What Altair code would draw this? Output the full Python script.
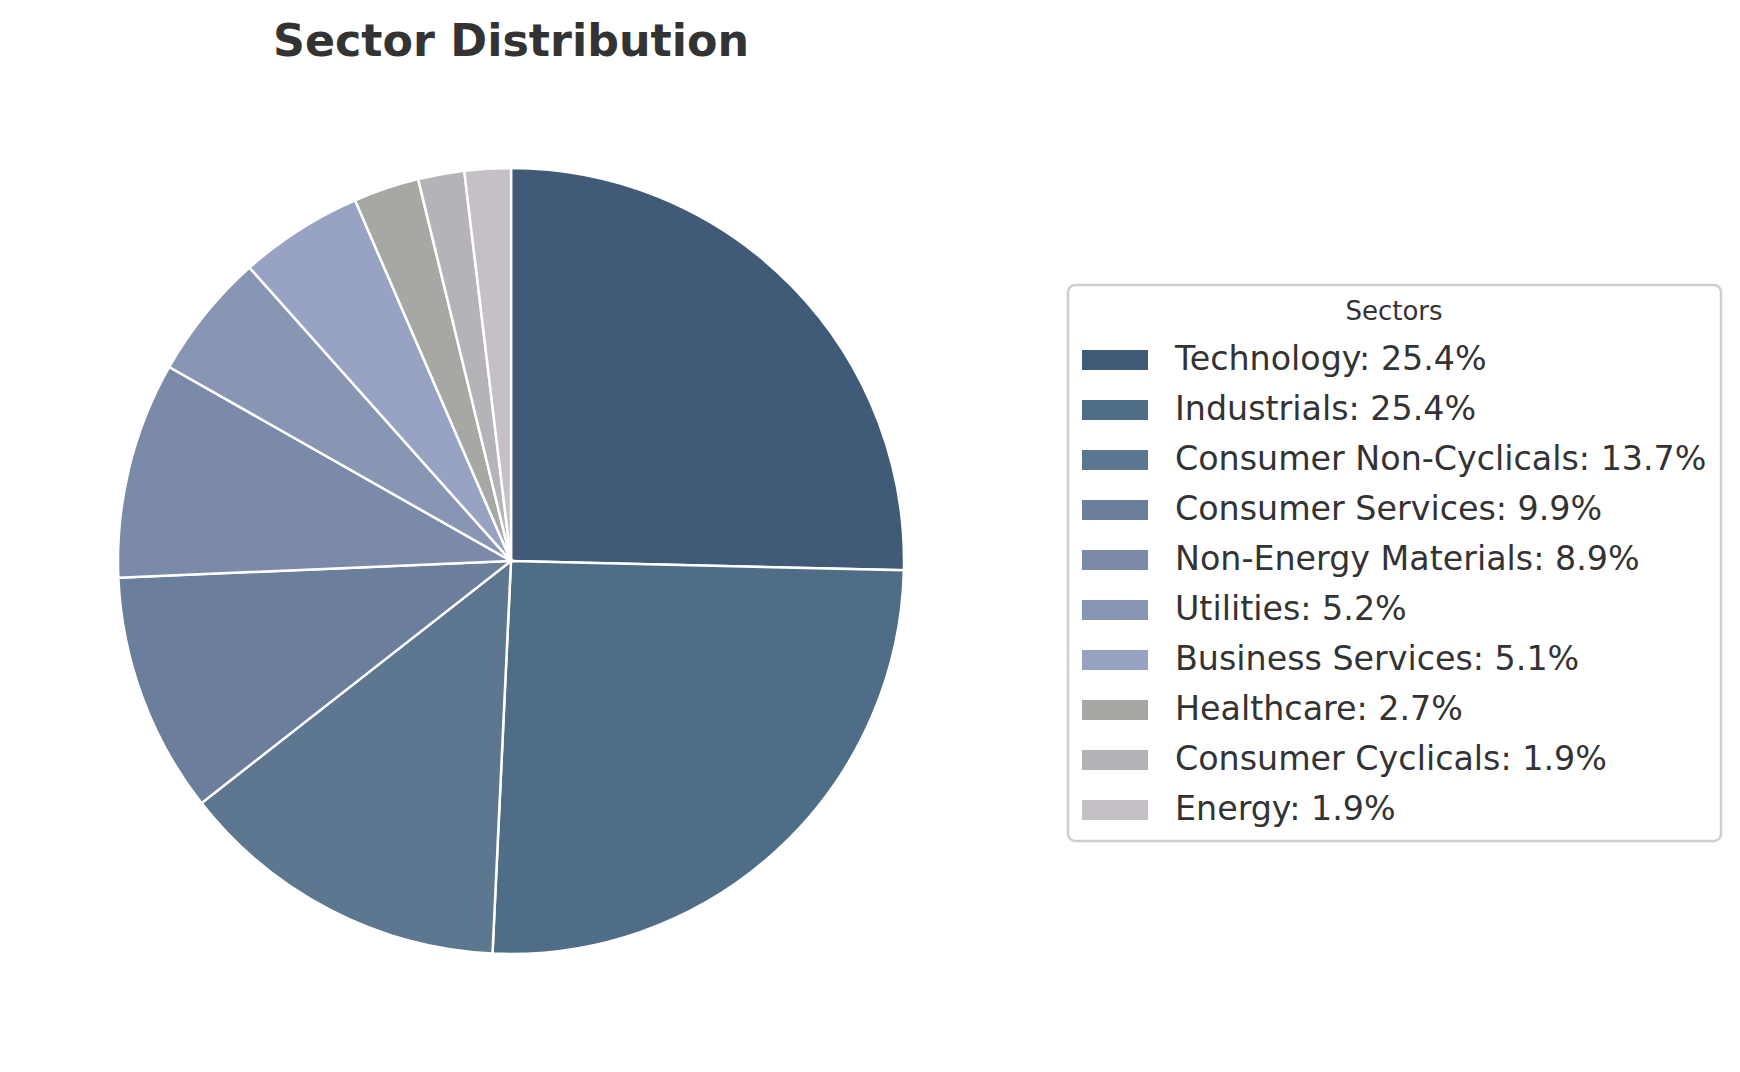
import altair as alt
import pandas as pd

sectors = ["Technology", "Industrials", "Consumer Non-Cyclicals", "Consumer Services",
           "Non-Energy Materials", "Utilities", "Business Services", "Healthcare",
           "Consumer Cyclicals", "Energy"]
shares = [25.4, 25.4, 13.7, 9.9, 8.9, 5.2, 5.1, 2.7, 1.9, 1.9]
colors = ["#415a77", "#4f6d87", "#5d7790", "#6b7f9c", "#7a8aa8", "#8896b4",
          "#98a2c2", "#a7a8a3", "#b5b3b7", "#c5c0c5"]

labels = [f"{s}: {v:.1f}%" for s, v in zip(sectors, shares)]
df = pd.DataFrame({"sector": sectors, "share": shares, "label": labels,
                   "order": list(range(len(sectors)))})

FONT = "DejaVu Sans"

pie = alt.Chart(df).mark_arc(
    outerRadius=393, stroke="white", strokeWidth=2.5
).encode(
    theta=alt.Theta("share:Q", stack=True),
    order=alt.Order("order:Q"),
    color=alt.Color(
        "label:N",
        scale=alt.Scale(domain=labels, range=colors),
        sort=labels,
        legend=alt.Legend(
            title="Sectors", orient="none", legendX=1060, legendY=189,
            titleFont=FONT, titleFontSize=26, titleFontWeight="normal",
            titleColor="#333333", titleAnchor="middle", titlePadding=2,
            labelFont=FONT, labelFontSize=33.3, labelColor="#333333",
            labelOffset=27, labelLimit=1000,
            symbolType="M-1,-0.3H1V0.3H-1Z", symbolSize=4356,
            symbolStrokeWidth=0, symbolOpacity=1,
            rowPadding=-0.4, padding=14,
            strokeColor="#cfcfcf", cornerRadius=7,
            fillColor="white",
        ),
    ),
    x=alt.value(503),
    y=alt.value(465),
)

chart = pie.properties(
    width=1724, height=968,
    background="white",
    title=alt.TitleParams(
        "Sector Distribution", font=FONT, fontSize=44.4, fontWeight="bold",
        color="#333333", anchor="middle", dx=-359, dy=36, offset=32,
        baseline="alphabetic",
    ),
    autosize=alt.AutoSizeParams(type="none"),
    padding={"left": 0, "top": 88, "right": 0, "bottom": 0},
).configure_view(stroke=None).configure_legend(strokeWidth=2.5)

chart.save("out.html", embed_options={"renderer": "svg", "actions": False})
